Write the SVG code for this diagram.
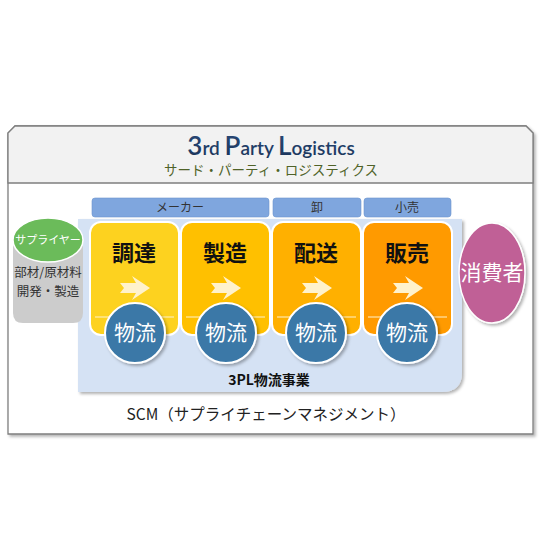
<svg xmlns="http://www.w3.org/2000/svg" width="560" height="560" viewBox="0 0 560 560">
<defs>
<filter id="sh" x="-10%" y="-10%" width="130%" height="130%">
<feDropShadow dx="2" dy="2" stdDeviation="1.5" flood-color="#000" flood-opacity="0.3"/>
</filter>
<linearGradient id="tg" x1="0" y1="0" x2="0" y2="1">
<stop offset="0" stop-color="#2a4a7a"/><stop offset="1" stop-color="#1b3358"/>
</linearGradient>
</defs>
<style>
.jp{font-family:"Noto Sans CJK JP","Noto Sans",sans-serif}
.tab{fill:#7fa6de;stroke:#6b93cc;stroke-width:0.6}
.tabt{font-size:12px;fill:#333;text-anchor:middle}
.step{stroke:#fff;stroke-width:2}
.stept{font-size:22px;font-weight:bold;fill:#111;text-anchor:middle}
.arr{fill:#fff2cc}
.ln{stroke:#fff2cc;stroke-width:1}
.log{fill:#3a78a7;stroke:#fff;stroke-width:2}
.logt{font-size:21px;fill:#fff;text-anchor:middle}
</style>
<rect x="0" y="0" width="560" height="560" fill="#fff"/>
<!-- frame -->
<g id="frame">
<path d="M15,126 H526 L533,133 V434 H8 V133 Z" fill="#fff" stroke="#7f7f7f" stroke-width="1.3" filter="url(#sh)"/>
<path d="M15,126 H526 L533,133 V183 H8 V133 Z" fill="#f2f2f2" stroke="#7f7f7f" stroke-width="1.3"/>
<text x="271" y="155" text-anchor="middle" font-family="Lato, 'Open Sans', sans-serif" font-weight="600" fill="url(#tg)" font-size="19"><tspan font-size="26">3</tspan>rd <tspan font-size="26">P</tspan>arty <tspan font-size="26">L</tspan>ogistics</text>
<text x="271" y="175" class="jp" text-anchor="middle" font-size="13.5" fill="#4f6228">サード・パーティ・ロジスティクス</text>
</g>
<!-- 3PL background -->
<g id="bg3pl">
<path d="M78,219 H462 V372 Q462,392 442,392 H78 Z" fill="#d5e2f4" filter="url(#sh)"/>
<text x="269" y="385" class="jp" text-anchor="middle" font-size="14" font-weight="bold" fill="#111">3PL物流事業</text>
</g>
<!-- tabs -->
<g id="tab-maker"><rect class="tab" x="92" y="198" width="177" height="19" rx="3"/><text class="jp tabt" x="180" y="212">メーカー</text></g>
<g id="tab-oroshi"><rect class="tab" x="273" y="198" width="88" height="19" rx="3"/><text class="jp tabt" x="317" y="212">卸</text></g>
<g id="tab-kouri"><rect class="tab" x="364" y="198" width="87" height="19" rx="3"/><text class="jp tabt" x="407" y="212">小売</text></g>
<!-- steps -->
<g id="step-chotatsu">
<rect class="step" x="90" y="222" width="89" height="113" rx="11" fill="#fdd21f"/>
<text class="jp stept" x="134" y="261">調達</text>
<path class="arr" d="M120,283 H136 L132,276 L150,288 L132,300 L136,293 H120 L124,288 Z"/>
<line class="ln" x1="95" y1="317" x2="174" y2="317"/>
</g>
<g id="step-seizo">
<rect class="step" x="181" y="222" width="89" height="113" rx="11" fill="#ffc000"/>
<text class="jp stept" x="225" y="261">製造</text>
<path class="arr" d="M211,283 H227 L223,276 L241,288 L223,300 L227,293 H211 L215,288 Z"/>
<line class="ln" x1="186" y1="317" x2="265" y2="317"/>
</g>
<g id="step-haiso">
<rect class="step" x="272" y="222" width="89" height="113" rx="11" fill="#ffb000"/>
<text class="jp stept" x="316" y="261">配送</text>
<path class="arr" d="M302,283 H318 L314,276 L332,288 L314,300 L318,293 H302 L306,288 Z"/>
<line class="ln" x1="277" y1="317" x2="356" y2="317"/>
</g>
<g id="step-hanbai">
<rect class="step" x="363" y="222" width="89" height="113" rx="11" fill="#ff9a00"/>
<text class="jp stept" x="407" y="261">販売</text>
<path class="arr" d="M393,283 H409 L405,276 L423,288 L405,300 L409,293 H393 L397,288 Z"/>
<line class="ln" x1="368" y1="317" x2="447" y2="317"/>
</g>
<!-- logistics circles -->
<g id="log1"><circle class="log" cx="135" cy="333" r="30" filter="url(#sh)"/><text class="jp logt" x="135" y="340">物流</text></g>
<g id="log2"><circle class="log" cx="226" cy="333" r="30" filter="url(#sh)"/><text class="jp logt" x="226" y="340">物流</text></g>
<g id="log3"><circle class="log" cx="316" cy="333" r="30" filter="url(#sh)"/><text class="jp logt" x="316" y="340">物流</text></g>
<g id="log4"><circle class="log" cx="407" cy="333" r="30" filter="url(#sh)"/><text class="jp logt" x="407" y="340">物流</text></g>
<!-- supplier -->
<g id="supplier">
<path d="M13,240 H83 V313 Q83,323 73,323 H23 Q13,323 13,313 Z" fill="#cccccc"/>
<ellipse cx="48" cy="240" rx="35" ry="22" fill="#6bbb5a" stroke="#fff" stroke-width="1.5"/>
<text class="jp" x="48" y="244" text-anchor="middle" font-size="11" fill="#fff">サプライヤー</text>
<text class="jp" x="48" y="277" text-anchor="middle" font-size="12.5" fill="#333">部材/原材料</text>
<text class="jp" x="48" y="296" text-anchor="middle" font-size="12.5" fill="#333">開発・製造</text>
</g>
<!-- consumer -->
<g id="consumer">
<ellipse cx="492" cy="273" rx="33" ry="50" fill="#c06096" stroke="#fff" stroke-width="1.5" filter="url(#sh)"/>
<text class="jp" x="492" y="280" text-anchor="middle" font-size="21" fill="#fff">消費者</text>
</g>
<g id="connectors"></g>
<text x="266" y="420" class="jp" text-anchor="middle" font-size="15.5" fill="#222">SCM（サプライチェーンマネジメント）</text>
</svg>
